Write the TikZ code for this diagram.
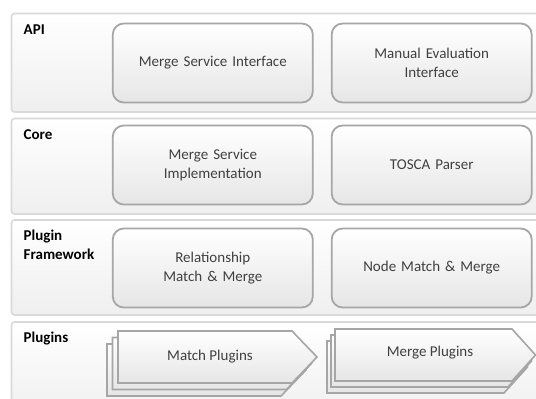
\documentclass[tikz,border=0pt]{standalone}
\usepackage{fontspec}
\setmainfont{Carlito}
\definecolor{bandline}{HTML}{D9D9D9}
\definecolor{bandfill}{HTML}{EFEFEF}
\definecolor{boxline}{HTML}{A6A6A6}
\definecolor{boxfill}{HTML}{E6E6E6}
\definecolor{txt}{HTML}{404040}
\begin{document}
\begin{tikzpicture}[x=1pt,y=-1pt,
  band/.style={draw=bandline, line width=1.6pt, rounded corners=3pt, top color=white, bottom color=bandfill},
  box/.style={draw=boxline, line width=1.8pt, rounded corners=11pt, top color=white, bottom color=boxfill,
    minimum width=200pt, minimum height=79pt, text width=190pt, align=center, text=txt,
    font=\fontsize{15}{19}\selectfont, inner sep=0pt},
  lab/.style={anchor=base west, font=\fontsize{15}{19.5}\selectfont\bfseries, align=left, inner sep=0pt},
  plug/.style={draw=boxline, line width=1.6pt, top color=white, bottom color=boxfill, line join=miter},
  plugtext/.style={text=txt, font=\fontsize{15}{19}\selectfont, inner sep=0pt}]
\useasboundingbox (0,0) rectangle (536,399);
\clip (0,0) rectangle (536,399);
\fill[white] (0,0) rectangle (536,399);
% bands
\draw[band] (11.5,13.5) rectangle (548,112);
\draw[band] (11.5,118.5) rectangle (548,214);
\draw[band] (11.5,220) rectangle (548,315);
\draw[band] (11.5,322) rectangle (548,420);
% labels
\node[lab] (lapi) at (23.5,34.5) {API};
\node[lab] (lcore) at (23.5,139.5) {Core};
\node[lab, anchor=north west] (lpf) at (23.5,229.5) {Plugin\\Framework};
\node[lab] (lplug) at (23.5,342) {Plugins};
% boxes
\node[box] (msi) at (212.8,63) {Merge Service Interface};
\node[box] (mei) at (431.7,63) {Manual Evaluation\\Interface};
\node[box] (msimpl) at (212.8,165) {Merge Service\\Implementation};
\node[box] (tosca) at (431.7,165) {TOSCA Parser};
\node[box] (rmm) at (212.8,268) {Relationship\\Match \& Merge};
\node[box] (nmm) at (431.7,268) {Node Match \& Merge};
% plugin stacks
\foreach \dx/\dy in {-11/13,-5.5/6.5,0/0}{
  \draw[plug, shift={(\dx,\dy)}] (118,331) -- (292,331) -- (317,357) -- (292,383) -- (118,383) -- cycle;
}
\foreach \dx/\dy in {-8/12,-4/6,0/0}{
  \draw[plug, shift={(\dx,\dy)}] (335,329) -- (512,329) -- (535.5,355) -- (512,381) -- (335,381) -- cycle;
}
\node[plugtext] (mp) at (210,357) {Match Plugins};
\node[plugtext] (gp) at (430,353) {Merge Plugins};
\end{tikzpicture}
\end{document}
